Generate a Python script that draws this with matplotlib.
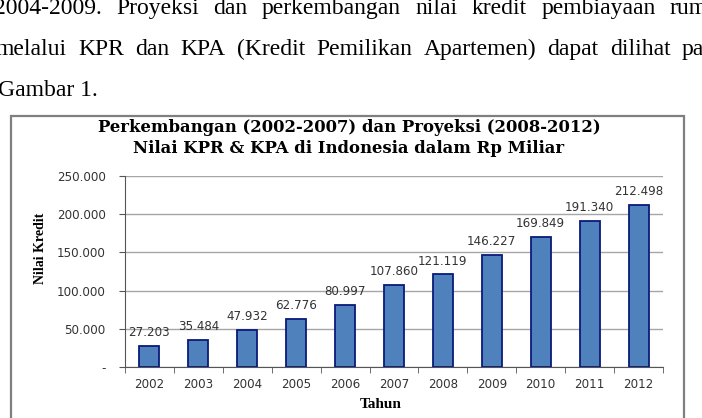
import matplotlib
matplotlib.use("Agg")
import matplotlib.pyplot as plt
from matplotlib.patches import Rectangle
from matplotlib.ticker import FuncFormatter, FixedLocator

years = ["2002", "2003", "2004", "2005", "2006", "2007", "2008", "2009", "2010", "2011", "2012"]
values = [27203, 35484, 47932, 62776, 80997, 107860, 121119, 146227, 169849, 191340, 212498]
yticks = [0, 50000, 100000, 150000, 200000, 250000]

title_lines = ["Perkembangan (2002-2007) dan Proyeksi (2008-2012)",
               "Nilai KPR & KPA di Indonesia dalam Rp Miliar"]
xlabel = "Tahun"
ylabel = "Nilai Kredit"

para_lines = [
    ["2004-2009.", "Proyeksi", "dan", "perkembangan", "nilai", "kredit", "pembiayaan", "rum"],
    ["melalui", "KPR", "dan", "KPA", "(Kredit", "Pemilikan", "Apartemen)", "dapat", "dilihat", "pa"],
    ["Gambar 1."],
]
# (left edge, right edge) in pixels for justified lines; None = left aligned
para_span = [(-6, 708), (-4, 704), (-2, None)]
para_base = [14, 55, 96]

W, H = 702, 418
fig = plt.figure(figsize=(W / 100, H / 100), dpi=100)
fig.patch.set_facecolor("white")

def fx(px):
    return px / W

def fy(py):
    return 1 - py / H

# paragraph text (justified)
renderer = fig.canvas.get_renderer()
for words, (x0, x1), yb in zip(para_lines, para_span, para_base):
    texts = [fig.text(fx(x0), fy(yb), w, family="Liberation Serif", fontsize=17,
                      ha="left", va="baseline", color="black") for w in words]
    if x1 is None or len(texts) < 2:
        continue
    widths = [t.get_window_extent(renderer).width for t in texts]
    gap = (x1 - x0 - sum(widths)) / (len(texts) - 1)
    cur = x0
    for t, wd in zip(texts, widths):
        t.set_x(fx(cur))
        cur += wd + gap

# chart frame
fig.add_artist(Rectangle((fx(11), fy(430)), fx(684) - fx(11), fy(116) - fy(430),
                         transform=fig.transFigure, fill=False,
                         edgecolor="#7f7f7f", linewidth=1.6, clip_on=False))

ax = fig.add_axes([fx(125), fy(367), fx(663) - fx(125), fy(176) - fy(367)])
x = list(range(len(years)))
ax.bar(x, values, width=0.41, color="#4F81BD", edgecolor="#0A1A7A", linewidth=1.3, zorder=3)
ax.set_xlim(-0.5, len(years) - 0.5)
ax.set_ylim(0, 250000)

ax.yaxis.set_major_locator(FixedLocator(yticks))
def yfmt(v, pos):
    if v == 0:
        return "-"
    return f"{int(v):,}".replace(",", ".")
ax.yaxis.set_major_formatter(FuncFormatter(yfmt))
ax.grid(axis="y", color="#a6a6a6", linewidth=1.0, zorder=0)
ax.set_axisbelow(True)

ax.set_xticks(x)
ax.set_xticklabels(years)
ax.set_xticks([i - 0.5 for i in range(len(years) + 1)], minor=True)
ax.tick_params(axis="x", which="major", length=0, pad=8, labelsize=8.6, labelcolor="#333333")
ax.tick_params(axis="x", which="minor", length=4, direction="out", color="#555555")
ax.tick_params(axis="y", length=4, direction="out", color="#555555", pad=10,
               labelsize=8.6, labelcolor="#333333")
for lbl in ax.get_xticklabels() + ax.get_yticklabels():
    lbl.set_family("DejaVu Sans")

for s in ["top", "right"]:
    ax.spines[s].set_visible(False)
ax.spines["left"].set_color("#555555")
ax.spines["bottom"].set_color("#555555")

for xi, v in zip(x, values):
    ax.annotate(f"{v:,}".replace(",", "."), (xi, v), xytext=(0, 5), textcoords="offset points",
                ha="center", va="bottom", fontsize=8.6, color="#333333", family="DejaVu Sans")

fig.text(fx(349), fy(128), title_lines[0], family="DejaVu Serif", fontweight="bold",
         fontsize=11.9, ha="center", va="center", color="black")
fig.text(fx(349), fy(148), title_lines[1], family="DejaVu Serif", fontweight="bold",
         fontsize=11.9, ha="center", va="center", color="black")
fig.text(fx(381), fy(405), xlabel, family="Liberation Serif", fontweight="bold",
         fontsize=11, ha="center", va="center", color="black")
fig.text(fx(41), fy(248), ylabel, family="Liberation Serif", fontweight="bold",
         fontsize=10, ha="center", va="center", rotation=90, color="black")

fig.savefig("out.png", dpi=100, facecolor="white")
